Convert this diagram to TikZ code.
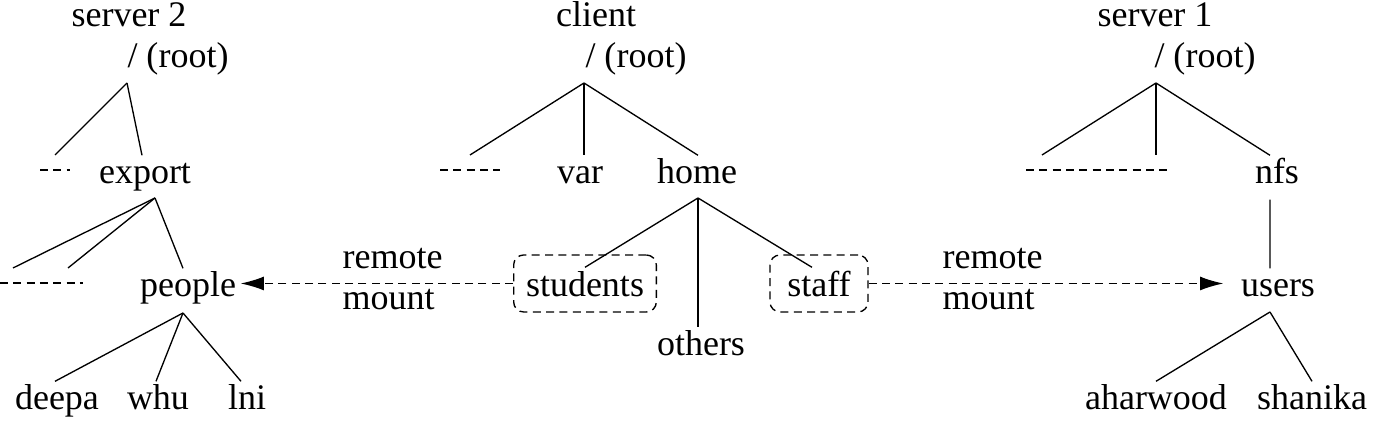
\documentclass[tikz,border=0pt]{standalone}
\usepackage{fontspec}
\setmainfont{Liberation Serif}
\usetikzlibrary{arrows.meta}

\begin{document}
\begin{tikzpicture}[x=0.3pt,y=-0.3pt,
    every node/.style={inner sep=0pt,font=\fontsize{10.8}{13}\selectfont},
    caption/.style={anchor=base},
    dir/.style={anchor=base,text height=8.4pt,text depth=4.5pt},
    mountbox/.style={dir,draw,dash pattern=on 2.4pt off 1.6pt,rounded corners=3pt,
        text height=12.6pt,inner xsep=3.7pt},
    gap/.style={dash pattern=on 2.4pt off 1.6pt},
    mount/.style={gap,-{Latex[length=7pt,width=4.2pt]}}]
\useasboundingbox (0,0) rectangle (1381,425);

% server 2
\node[caption] (s2name) at (129,27) {server 2};
\node[caption] (s2root) at (178,68) {/ (root)};
\coordinate (s2fork) at (127,83);
\coordinate (s2gap) at (55,155);
\node[dir] (export) at (145,184) {export};
\coordinate (exportfork) at (155,198);
\coordinate (s2gapA) at (13,268);
\coordinate (s2gapB) at (68,268);
\node[dir] (people) at (188,297) {people};
\coordinate (peoplefork) at (183,313);
\node[dir] (deepa) at (57,410) {deepa};
\node[dir] (whu) at (158,410) {whu};
\node[dir] (lni) at (247,410) {lni};
\draw (s2fork) -- (s2gap);
\draw (s2fork) -- ([xshift=-0.9pt]export.north);
\draw (exportfork) -- (s2gapA);
\draw (exportfork) -- (s2gapB);
\draw (exportfork) -- ([xshift=-1.5pt]people.north);
\draw (peoplefork) -- ([xshift=-0.6pt]deepa.north);
\draw (peoplefork) -- ([xshift=-0.6pt]whu.north);
\draw (peoplefork) -- ([xshift=-1.8pt]lni.north);
\draw[gap] (40,170) -- (70,170);
\draw[gap] (0,283) -- (83,283);

% client
\node[caption] (cname) at (596,27) {client};
\node[caption] (croot) at (636,68) {/ (root)};
\coordinate (cfork) at (584,83);
\coordinate (cgap) at (470,155);
\node[dir] (var) at (580,184) {var};
\node[dir] (home) at (697,184) {home};
\coordinate (homefork) at (698,198);
\node[mountbox] (students) at (585,297) {students};
\node[mountbox,minimum width=29.4pt] (staff) at (819,297) {staff};
\node[dir] (others) at (701,356) {others};
\draw (cfork) -- (cgap);
\draw (cfork) -- (var.north -| cfork);
\draw (cfork) -- ([xshift=0.3pt]home.north);
\draw (homefork) -- ([yshift=-3.9pt]students.north);
\draw (homefork) -- ([xshift=-2.1pt,yshift=-3.9pt]staff.north);
\draw (homefork) -- (others.north -| homefork);
\draw[gap] (440,170) -- (500,170);

% remote mounts
\node[anchor=base west] (lremote) at (342,269) {remote};
\node[anchor=base west] (lmount) at (342,310) {mount};
\node[anchor=base west] (rremote) at (942,269) {remote};
\node[anchor=base west] (rmount) at (942,310) {mount};

% server 1
\node[caption] (s1name) at (1155,27) {server 1};
\node[caption] (s1root) at (1205,68) {/ (root)};
\coordinate (s1fork) at (1156,83);
\coordinate (s1gapA) at (1042,155);
\coordinate (s1gapB) at (1156,155);
\node[dir] (nfs) at (1277,184) {nfs};
\node[dir] (users) at (1278,297) {users};
\coordinate (usersfork) at (1270,312);
\node[dir] (aharwood) at (1156,410) {aharwood};
\node[dir] (shanika) at (1312,410) {shanika};
\draw (s1fork) -- (s1gapA);
\draw (s1fork) -- (s1gapB);
\draw (s1fork) -- ([xshift=-2.1pt]nfs.north);
\draw ([xshift=-2.1pt]nfs.south) -- ([xshift=-2.4pt]users.north);
\draw (usersfork) -- (aharwood.north);
\draw (usersfork) -- (shanika.north);
\draw[gap] (1026,170) -- (1170,170);

\draw[mount,shorten >=1.2pt] (students.west) -- (students.west -| people.east);
\draw[mount,shorten >=5.1pt] (staff.east) -- (staff.east -| users.west);
\end{tikzpicture}
\end{document}
